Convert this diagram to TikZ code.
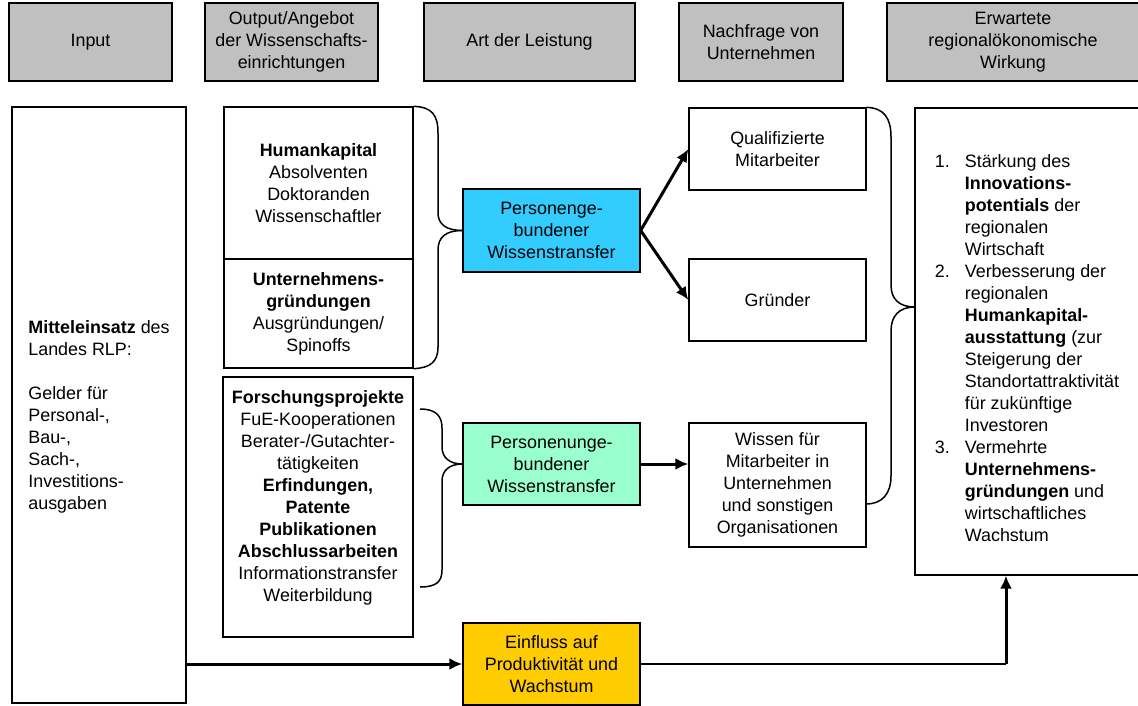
\documentclass[tikz,border=0pt]{standalone}
\usepackage{fontspec}
\setmainfont{Liberation Sans}
\usetikzlibrary{arrows.meta}
\definecolor{kopfgrau}{RGB}{192,192,192}
\definecolor{blau}{RGB}{51,204,255}
\definecolor{gruen}{RGB}{153,255,204}
\definecolor{gelb}{RGB}{255,204,0}
\begin{document}
\begin{tikzpicture}[x=1pt, y=-1pt, font=\fontsize{17.9}{22}\selectfont,
  kasten/.style={draw, line width=1.3pt, inner sep=0pt, align=center},
  kopf/.style={kasten, fill=kopfgrau, minimum height=78pt},
  klammer/.style={line width=1.5pt},
  pfeil/.style={line width=3pt, -{Latex[length=13pt, width=12pt]}}]
\useasboundingbox (0,0) rectangle (1138,706);
\node[kopf, minimum width=163pt] (k1) at (90.5,42) {Input};
\node[kopf, minimum width=173pt] (k2) at (291.5,42) {Output/Angebot\\der Wissenschafts-\\einrichtungen};
\node[kopf, minimum width=211pt] (k3) at (529.5,42) {Art der Leistung};
\node[kopf, minimum width=164pt] (k4) at (761,42) {Nachfrage von\\Unternehmen};
\node[kopf, minimum width=252pt] (k5) at (1013,42) {Erwartete\\regionalökonomische\\Wirkung};
\node[kasten, align=left, minimum width=174pt, minimum height=596pt] (inp) at (99,405) {\rule{0pt}{37pt}\textbf{Mitteleinsatz} des\\Landes RLP:\\[22pt]Gelder für\\Personal-,\\Bau-,\\Sach-,\\Investitions-\\ausgaben};
\node[kasten, minimum width=189pt, minimum height=152pt] (hum) at (318.5,183) {\textbf{Humankapital}\\Absolventen\\Doktoranden\\Wissenschaftler};
\node[kasten, minimum width=189pt, minimum height=109pt] (ugr) at (318.5,313.5) {\textbf{Unternehmens-}\\\textbf{gründungen}\\Ausgründungen/\\Spinoffs};
\node[kasten, minimum width=190pt, minimum height=260pt] (fp) at (318,507) {\textbf{Forschungsprojekte}\\FuE-Kooperationen\\Berater-/Gutachter-\\tätigkeiten\\\textbf{Erfindungen,}\\\textbf{Patente}\\\textbf{Publikationen}\\\textbf{Abschlussarbeiten}\\Informationstransfer\\Weiterbildung\rule[-22pt]{0pt}{0pt}};
\node[kasten, fill=blau, minimum width=177pt, minimum height=83pt] (pgb) at (551.5,230.5) {Personenge-\\bundener\\Wissenstransfer};
\node[kasten, fill=gruen, minimum width=177pt, minimum height=82pt] (pug) at (551.5,464) {Personenunge-\\bundener\\Wissenstransfer};
\node[kasten, fill=gelb, minimum width=177pt, minimum height=82pt] (einf) at (551.5,664) {Einfluss auf\\Produktivität und\\Wachstum};
\node[kasten, minimum width=177pt, minimum height=82pt] (qm) at (777.5,149) {Qualifizierte\\Mitarbeiter};
\node[kasten, minimum width=177pt, minimum height=82pt] (gr) at (777.5,300) {Gründer};
\node[kasten, minimum width=177pt, minimum height=124pt] (wm) at (777.5,485) {Wissen für\\Mitarbeiter in\\Unternehmen\\und sonstigen\\Organisationen};
\node[kasten, minimum width=224pt, minimum height=467pt] (wirk) at (1027,341.5) {\begin{tabular}{@{}l@{\hspace{15pt}}l@{}}
\rule{0pt}{33pt}1. & Stärkung des\\
 & \textbf{Innovations-}\\
 & \textbf{potentials} der\\
 & regionalen\\
 & Wirtschaft\\
2. & Verbesserung der\\
 & regionalen\\
 & \textbf{Humankapital-}\\
 & \textbf{ausstattung} (zur\\
 & Steigerung der\\
 & Standortattraktivität\\
 & für zukünftige\\
 & Investoren\\
3. & Vermehrte\\
 & \textbf{Unternehmens-}\\
 & \textbf{gründungen} und\\
 & wirtschaftliches\\
 & Wachstum
\end{tabular}};
\coordinate (fo) at (420,409);
\coordinate (fu) at (420,587);
\coordinate (rs) at (915,307);
\coordinate (re) at (866,504);
\coordinate (kn) at (1006,664);
\draw[klammer] (hum.north east) .. controls (432,107) and (438,115) .. (438,133) -- (438,213) .. controls (438,224) and (446,230.5) .. (pgb.west);
\draw[klammer] (pgb.west) .. controls (446,230.5) and (438,237) .. (438,250) -- (438,347) .. controls (438,362) and (430,368) .. (ugr.south east);
\draw[klammer] (fo) .. controls (436,409) and (442,416) .. (442,428) -- (442,447) .. controls (442,458) and (450,464) .. (pug.west);
\draw[klammer] (pug.west) .. controls (450,464) and (442,470) .. (442,481) -- (442,570) .. controls (442,582) and (436,587) .. (fu);
\draw[klammer] (qm.north east) .. controls (884,108) and (891,118) .. (891,137) -- (891,285) .. controls (891,299) and (899,307) .. (rs);
\draw[klammer] (rs) .. controls (899,307) and (891,316) .. (891,331) -- (891,476) .. controls (891,494) and (882,504) .. (re);
\draw[pfeil] (pgb.east) -- (qm.west);
\draw[pfeil] (pgb.east) -- (gr.west);
\draw[pfeil] (pug.east) -- (pug.east -| wm.west);
\draw[pfeil] (inp.east |- einf.west) -- (einf.west);
\draw[line width=2pt] (einf.east) -- (kn);
\draw[pfeil] (kn) -- (kn |- wirk.south);
\end{tikzpicture}
\end{document}
